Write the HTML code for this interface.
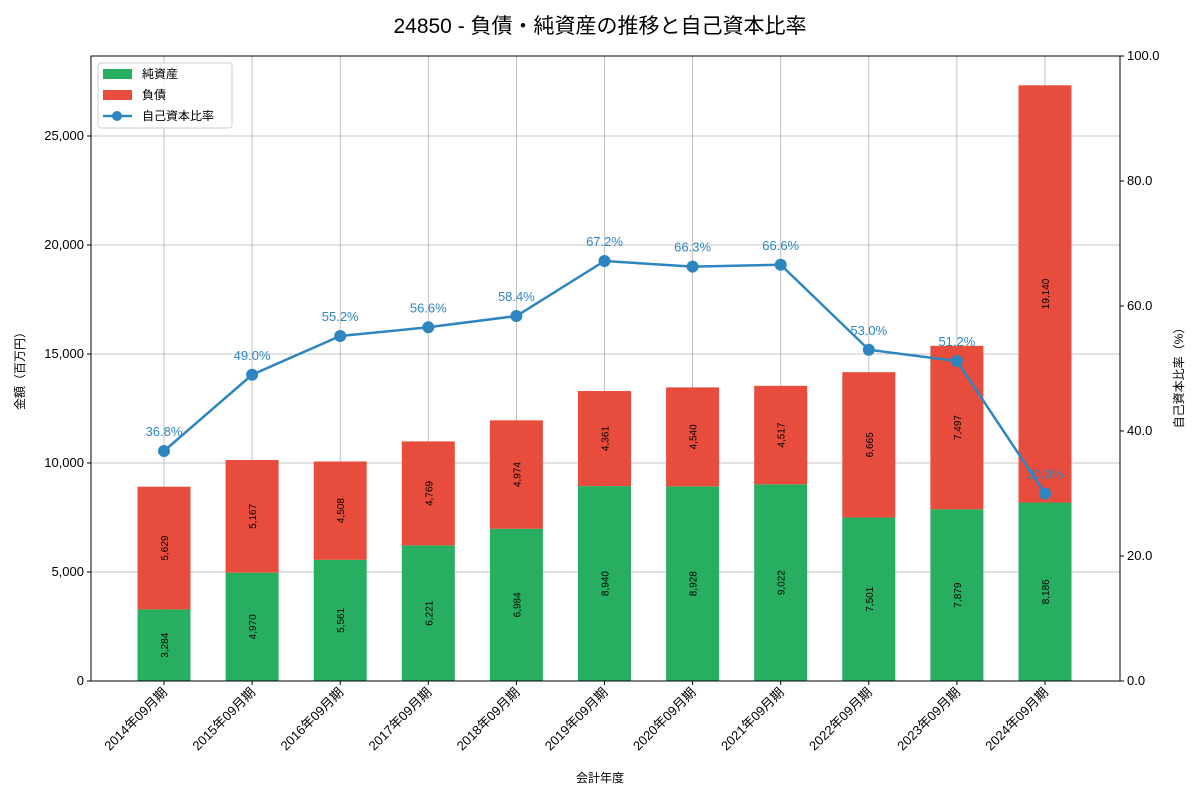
<!DOCTYPE html>
<html><head><meta charset="utf-8"><style>
body{margin:0;background:#fff}
svg{font-family:"Liberation Sans","Noto Sans CJK JP",sans-serif}
</style></head><body>
<svg id="c" width="1200" height="800" xmlns="http://www.w3.org/2000/svg">
<rect width="1200" height="800" fill="#fff"/>
<text x="600" y="33" font-size="21" text-anchor="middle" fill="#000">24850 - 負債・純資産の推移と自己資本比率</text>
<g id="grid"></g><g id="bars"></g><g id="line"></g><g id="axes"></g>
<text x="600" y="782" font-size="12" text-anchor="middle">会計年度</text>
<text transform="translate(24,368) rotate(-90)" font-size="12" text-anchor="middle">金額（百万円）</text>
<text transform="translate(1183,375) rotate(-90)" font-size="12" text-anchor="middle">自己資本比率（%）</text>
<g>
<rect x="98" y="63" width="134" height="65" fill="#fff" fill-opacity="0.8" stroke="#ccc" rx="3"/>
<rect x="103" y="69" width="29" height="10" fill="#27ae60"/>
<text x="142" y="78" font-size="12">純資産</text>
<rect x="103" y="90" width="29" height="10" fill="#e74c3c"/>
<text x="142" y="99" font-size="12">負債</text>
<line x1="103" y1="116" x2="132" y2="116" stroke="#2e86c1" stroke-width="2.5"/>
<circle cx="117" cy="116" r="5" fill="#2e86c1"/>
<text x="142" y="120" font-size="12">自己資本比率</text>
</g>
</svg>
<script>
const categories=["2014年09月期","2015年09月期","2016年09月期","2017年09月期","2018年09月期","2019年09月期","2020年09月期","2021年09月期","2022年09月期","2023年09月期","2024年09月期"];
const netAssets=[3284,4970,5561,6221,6984,8940,8928,9022,7501,7879,8186];
const liabilities=[5629,5167,4508,4769,4974,4361,4540,4517,6665,7497,19140];
const ratio=[36.8,49.0,55.2,56.6,58.4,67.2,66.3,66.6,53.0,51.2,30.0];
const yTicks=[0,5000,10000,15000,20000,25000];
const y2Ticks=[0,20,40,60,80,100];
const NS="http://www.w3.org/2000/svg";
const L=91,R=1120,T=56,B=681;
const x=i=>164+i*88.1;
const y=v=>B-v*(109/5000);
const y2=v=>B-v*(B-T)/100;
function mk(p,tag,a,txt){const e=document.createElementNS(NS,tag);for(const k in a)e.setAttribute(k,a[k]);if(txt!==undefined)e.textContent=txt;document.getElementById(p).appendChild(e);return e;}
categories.forEach((c,i)=>{const g=mk('grid','line',{x1:x(i),x2:x(i),y1:T,y2:B,stroke:'#b0b0b0','stroke-width':0.8});
});
yTicks.forEach(v=>{const g=mk('grid','line',{x1:L,x2:R,y1:y(v),y2:y(v),stroke:'#b0b0b0','stroke-width':0.8});

const t=mk('axes','text',{x:L-7,y:y(v)+4,'font-size':13,'text-anchor':'end'},v.toLocaleString('en-US'));

mk('axes','line',{x1:L-4,x2:L,y1:y(v),y2:y(v),stroke:'#000'});});
y2Ticks.forEach(v=>{const t=mk('axes','text',{x:R+7,y:y2(v)+4,'font-size':13},v.toFixed(1));

mk('axes','line',{x1:R,x2:R+4,y1:y2(v),y2:y2(v),stroke:'#000'});});
const bw=53;
categories.forEach((c,i)=>{
const n=netAssets[i],l=liabilities[i];
const b1=mk('bars','rect',{x:x(i)-bw/2,y:y(n),width:bw,height:y(0)-y(n),fill:'#27ae60'});

const b2=mk('bars','rect',{x:x(i)-bw/2,y:y(n+l),width:bw,height:y(n)-y(n+l),fill:'#e74c3c'});

let cy=(y(0)+y(n))/2;
const t1=mk('bars','text',{transform:`translate(${x(i)+4},${cy}) rotate(-90)`,'font-size':10,'text-anchor':'middle'},n.toLocaleString('en-US'));

cy=(y(n)+y(n+l))/2;
const t2=mk('bars','text',{transform:`translate(${x(i)+4},${cy}) rotate(-90)`,'font-size':10,'text-anchor':'middle'},l.toLocaleString('en-US'));

mk('axes','line',{x1:x(i),x2:x(i),y1:B,y2:B+4,stroke:'#000'});
const xl=mk('axes','text',{transform:`translate(${x(i)+4},${B+12}) rotate(-45)`,'font-size':13,'text-anchor':'end'},c);

});
const pl=mk('line','polyline',{points:ratio.map((r,i)=>x(i)+','+y2(r)).join(' '),fill:'none',stroke:'#2e86c1','stroke-width':2.5});

ratio.forEach((r,i)=>{const c=mk('line','circle',{cx:x(i),cy:y2(r),r:6,fill:'#2e86c1'});

const t=mk('line','text',{x:x(i),y:y2(r)-15,'font-size':13,'text-anchor':'middle',fill:'#2e86c1'},r.toFixed(1)+'%');
});
mk('axes','rect',{x:L,y:T,width:R-L,height:B-T,fill:'none',stroke:'#000','stroke-width':1});
</script>
</body></html>
